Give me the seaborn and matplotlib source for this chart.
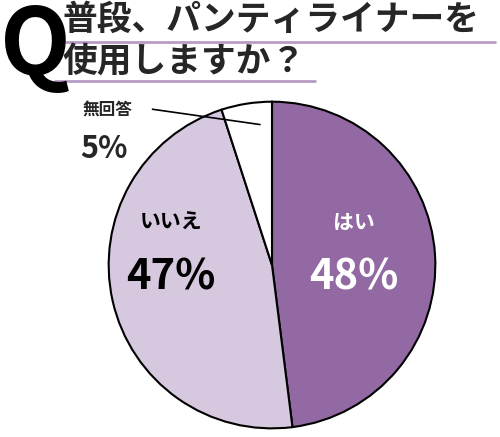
import matplotlib
matplotlib.use("Agg")
import matplotlib.pyplot as plt
import seaborn as sns

sns.set_style("white")
plt.rcParams['font.family'] = ['Noto Sans CJK JP', 'DejaVu Sans']

labels = ["はい", "いいえ", "無回答"]
values = [48, 47, 5]
colors = ["#9369a3", "#d6c8df", "#ffffff"]

fig = plt.figure(figsize=(5, 4.37), dpi=100)

# title
fig.text(0.0, 1.0, "Q", fontsize=66, fontweight="bold", va="top", ha="left", color="black")
fig.text(0.125, 0.995, "普段、パンティライナーを", fontsize=25, fontweight="bold", va="top", ha="left")
fig.text(0.125, 0.9, "使用しますか？", fontsize=25, fontweight="bold", va="top", ha="left")
fig.add_artist(plt.Line2D([0.11, 0.99], [0.905, 0.905], color="#b79cc6", lw=2))
fig.add_artist(plt.Line2D([0.11, 0.63], [0.815, 0.815], color="#b79cc6", lw=2))

ax = fig.add_axes([0.214, 0.016, 0.66, 0.755])
ax.pie(values, colors=colors, startangle=90, counterclock=False,
       wedgeprops=dict(edgecolor="black", linewidth=1.5))
ax.set_xlim(-1.01, 1.01)
ax.set_ylim(-1.01, 1.01)
ax.set_aspect("equal")
ax.axis("off")

ax.text(0.5, 0.22, "はい", fontsize=15, fontweight="bold", color="white", ha="center")
ax.text(0.5, -0.15, "48%", fontsize=30, fontweight="bold", color="white", ha="center")
ax.text(-0.62, 0.22, "いいえ", fontsize=15, fontweight="bold", color="black", ha="center")
ax.text(-0.62, -0.15, "47%", fontsize=30, fontweight="bold", color="black", ha="center")

fig.text(0.165, 0.75, "無回答", fontsize=12, fontweight="bold", va="center")
fig.text(0.16, 0.66, "5%", fontsize=22, fontweight="bold", va="center")
fig.add_artist(plt.Line2D([0.305, 0.52], [0.75, 0.715], color="black", lw=1.2))

fig.savefig("out.png", dpi=100, facecolor="white")
